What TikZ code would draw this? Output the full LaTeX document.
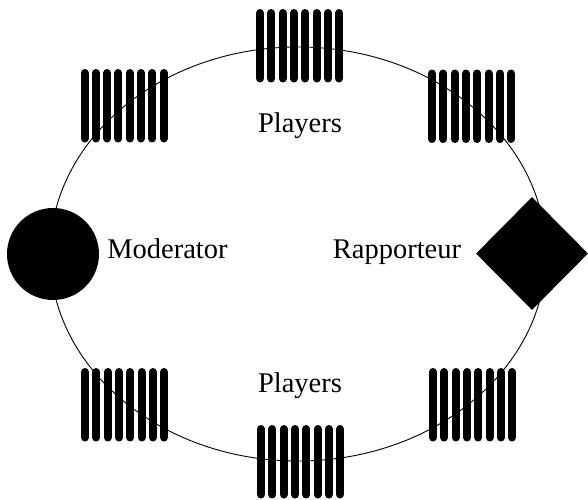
\documentclass[tikz,border=0pt]{standalone}
\usepackage{fontspec}
\setmainfont{Liberation Serif}
\usetikzlibrary{shapes.geometric}
\tikzset{
  bar/.style={line width=8pt, line cap=round},
  lbl/.style={anchor=base, inner sep=0pt, font=\fontsize{28.5}{31}\selectfont},
  players/.pic={
    \foreach \i in {0,...,7}
      \draw[bar] (\i*11.3+4,4) -- (\i*11.3+4,69.5);
  }
}
\begin{document}
\begin{tikzpicture}[x=1pt,y=-1pt]
\useasboundingbox (0,0) rectangle (588,499);
\draw[line width=0.9pt] (298,254) ellipse [x radius=248, y radius=207];
\pic at (256,9) {players};
\pic at (80.5,69) {players};
\pic at (428,69.5) {players};
\pic at (81,368) {players};
\pic at (257,425) {players};
\pic at (429,368) {players};
\node[circle, fill=black, minimum size=92pt, inner sep=0pt] (mod) at (53,254) {};
\node[diamond, fill=black, minimum width=112pt, minimum height=113pt, inner sep=0pt] (rap) at (532,253.5) {};
\node[lbl] (p1) at (300,132) {Players};
\node[lbl] (p2) at (300,392) {Players};
\node[lbl] (m) at (167.5,258) {Moderator};
\node[lbl] (r) at (397,258) {Rapporteur};
\end{tikzpicture}
\end{document}
